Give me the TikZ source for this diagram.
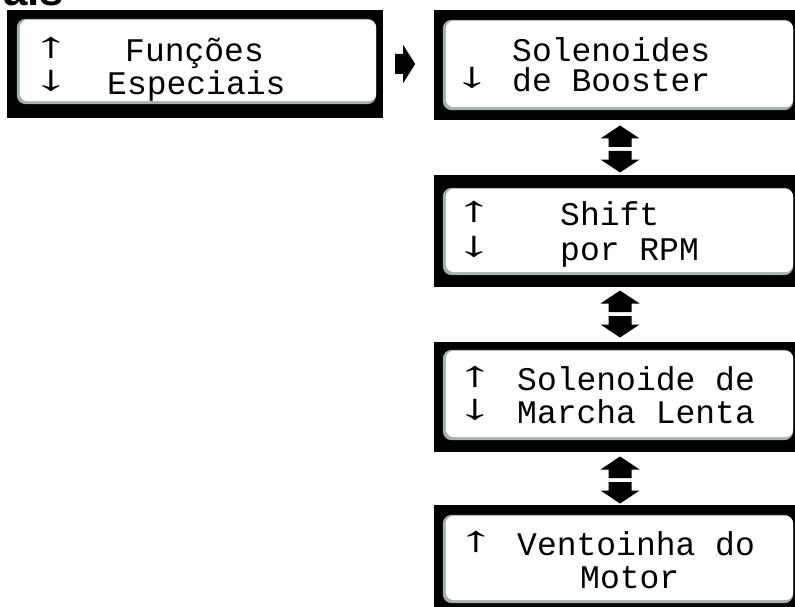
\documentclass[tikz,border=0pt]{standalone}
\usepackage{fontspec}
\setmainfont{Liberation Sans}
\newfontfamily\lcdfont{Liberation Mono}
\usetikzlibrary{calc}
\definecolor{lcdedge}{HTML}{9FB3B3}
\newcommand\lcdpanel[9]{%
  \node[frame, minimum width=#4pt, minimum height=#5pt] (#1) at (#2,#3) {};
  \fill[lcdedge, rounded corners=9pt] ($(#1.north west)+(#6,#7)$) rectangle ($(#1.south east)+(-#8,-#9)$);
  \fill[white, rounded corners=8pt] ($(#1.north west)+(#6+3,#7+1)$) rectangle ($(#1.south east)+(-#8,-#9-3)$);
}
\newcommand\navarrows[1]{%
  \fill[shift={(#1)}] (0,-24) -- (19.5,-11) -- (11.5,-11) -- (11.5,-2.5) -- (-11.5,-2.5) -- (-11.5,-11) -- (-19.5,-11) -- cycle;
  \fill[shift={(#1)}] (0,23) -- (19.5,10) -- (11.5,10) -- (11.5,1.5) -- (-11.5,1.5) -- (-11.5,10) -- (-19.5,10) -- cycle;
}
\newcommand\wideglyph[1]{\scalebox{2}[1]{#1}}
\begin{document}
\begin{tikzpicture}[x=1pt,y=-1pt,
  frame/.style={fill=black, draw=none, rectangle, inner sep=0pt},
  lcdtext/.style={font=\lcdfont\fontsize{33}{33}\selectfont, inner sep=0pt, anchor=base west},
  lcdsym/.style={font=\lcdfont\fontsize{36}{36}\selectfont, inner sep=0pt, anchor=base, yshift=4pt},
  titlefrag/.style={font=\bfseries\fontsize{44}{44}\selectfont, inner sep=0pt, anchor=base west}]
\useasboundingbox (0,0) rectangle (795,607);
\fill[white] (0,0) rectangle (795,607);

% title fragment
\node[titlefrag] (title) at (3,5.5) {ais};

% panels
\lcdpanel{L}{195}{64}{376}{108}{10}{9}{7}{14}
\lcdpanel{R1}{620}{65}{372}{110}{9}{10}{13}{10}
\lcdpanel{R2}{620}{231}{372}{112}{9}{13}{13}{12}
\lcdpanel{R3}{620}{397}{372}{110}{9}{8}{13}{12}
\lcdpanel{R4}{620}{561}{372}{112}{9}{10}{13}{14}

% texts
\node[lcdsym]  (Lu) at (51,62) {\wideglyph{↑}};
\node[lcdtext] (L1) at (125,62) {Funções};
\node[lcdsym]  (Ld) at (51,95) {\wideglyph{↓}};
\node[lcdtext] (L2) at (107,95) {Especiais};

\node[lcdtext] (R1a) at (512,62) {Solenoides};
\node[lcdsym]  (R1d) at (472,92) {\wideglyph{↓}};
\node[lcdtext] (R1b) at (512,92) {de Booster};

\node[lcdsym]  (R2u) at (474,225) {\wideglyph{↑}};
\node[lcdtext] (R2a) at (560,225) {Shift};
\node[lcdsym]  (R2d) at (474,260) {\wideglyph{↓}};
\node[lcdtext] (R2b) at (560,260) {por RPM};

\node[lcdsym]  (R3u) at (475,390) {\wideglyph{↑}};
\node[lcdtext] (R3a) at (517,390) {Solenoide de};
\node[lcdsym]  (R3d) at (475,423) {\wideglyph{↓}};
\node[lcdtext] (R3b) at (517,423) {Marcha Lenta};

\node[lcdsym]  (R4u) at (476,555) {\wideglyph{↑}};
\node[lcdtext] (R4a) at (517,555) {Ventoinha do};
\node[lcdtext] (R4b) at (580,588) {Motor};

% right arrow L -> R1
\fill[shift={(L.east)}] (12,-10) -- (20,-10) -- (20,-19) -- (32,0) -- (20,19) -- (20,10) -- (12,10) -- cycle;

% up/down arrows
\coordinate (m1) at ($($(R1.south)!0.5!(R2.north)$)+(0,2)$);
\coordinate (m2) at ($($(R2.south)!0.5!(R3.north)$)+(0,0)$);
\coordinate (m3) at ($($(R3.south)!0.5!(R4.north)$)+(0,2)$);
\navarrows{m1}
\navarrows{m2}
\navarrows{m3}
\end{tikzpicture}
\end{document}
